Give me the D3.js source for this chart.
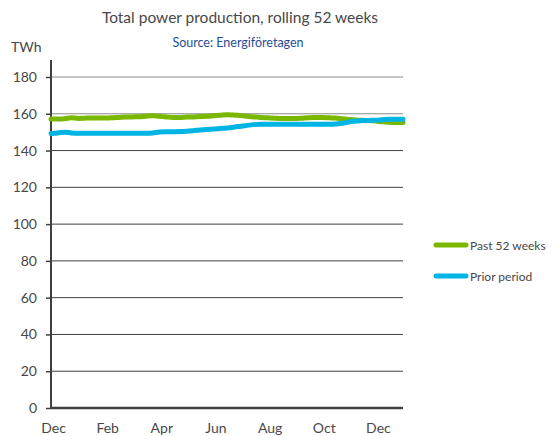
<!DOCTYPE html>
<html>
<head>
<meta charset="utf-8">
<script src="https://cdn.jsdelivr.net/npm/d3@7"></script>
<style>
  body { margin: 0; background: #fff; }
  svg text { font-family: Lato, "Open Sans", sans-serif; }
</style>
</head>
<body>
<svg id="chart" width="555" height="436"></svg>
<script>
// weekly rolling 52-week totals, TWh (week 0 = Dec)
const weeks = d3.range(0, 53);
const past52 = [
  157.2, 157.2, 157.3, 157.8, 157.5, 157.6, 157.7, 157.7, 157.7, 157.8,
  158.0, 158.2, 158.3, 158.4, 158.7, 158.9, 158.6, 158.3, 158.0, 158.0,
  158.2, 158.3, 158.5, 158.6, 158.9, 159.2, 159.5, 159.4, 159.0, 158.6,
  158.3, 158.0, 157.8, 157.6, 157.4, 157.4, 157.4, 157.6, 157.9, 158.0,
  158.0, 157.9, 157.7, 157.3, 156.9, 156.6, 156.5, 156.3, 156.0, 155.6,
  155.4, 155.3, 155.3
];
const prior = [
  149.3, 149.6, 150.0, 149.6, 149.4, 149.4, 149.4, 149.4, 149.4, 149.4,
  149.4, 149.4, 149.4, 149.4, 149.4, 149.6, 150.1, 150.2, 150.2, 150.3,
  150.5, 150.8, 151.2, 151.5, 151.7, 152.0, 152.3, 152.7, 153.2, 153.7,
  154.1, 154.3, 154.3, 154.3, 154.3, 154.3, 154.3, 154.3, 154.3, 154.3,
  154.3, 154.3, 154.4, 154.8, 155.5, 156.1, 156.3, 156.4, 156.5, 156.8,
  157.0, 157.0, 157.0
];
const monthTicks = [0, 8, 16, 24, 32, 40, 48];
const monthLabels = ["Dec", "Feb", "Apr", "Jun", "Aug", "Oct", "Dec"];
const yTicks = [0, 20, 40, 60, 80, 100, 120, 140, 160, 180];
const seriesNames = ["Past 52 weeks", "Prior period"];
const seriesColors = ["#7ab800", "#00b4e4"];

const svg = d3.select("#chart");
const plotLeft = 51, plotRight = 403, plotTop = 77, plotBottom = 408;

const x = d3.scaleLinear().domain([0, 52]).range([plotLeft, plotRight]);
const y = d3.scaleLinear().domain([0, 180]).range([plotBottom, plotTop]);

// title
svg.append("text")
  .attr("x", 240).attr("y", 23)
  .attr("text-anchor", "middle")
  .style("font-size", "15.5px").style("fill", "#484848")
  .text("Total power production, rolling 52 weeks");
svg.append("text")
  .attr("x", 238).attr("y", 47)
  .attr("text-anchor", "middle")
  .style("font-size", "12.5px").style("fill", "#1f4e96")
  .text("Source: Energiföretagen");
svg.append("text")
  .attr("x", 11).attr("y", 52)
  .style("font-size", "14px").style("fill", "#484848")
  .text("TWh");

// gridlines
svg.append("g")
  .selectAll("line")
  .data(yTicks.filter(d => d > 0))
  .join("line")
  .attr("x1", plotLeft).attr("x2", plotRight)
  .attr("y1", d => y(d)).attr("y2", d => y(d))
  .attr("stroke", d => d >= 160 ? "#8c8c8c" : "#404040")
  .attr("stroke-width", 1);

// y axis
const yAxis = svg.append("g")
  .attr("transform", `translate(${plotLeft},0)`)
  .call(d3.axisLeft(y).tickValues(yTicks).tickSize(5).tickPadding(9).tickSizeOuter(0));
yAxis.select(".domain").attr("stroke", "#404040").attr("stroke-width", 2)
  .attr("d", `M0,${plotTop - 17}V${plotBottom + 1}`);
yAxis.selectAll(".tick line").attr("stroke", "#404040").attr("stroke-width", 1.5);
yAxis.selectAll(".tick text").style("font-size", "14px").style("fill", "#484848")
  .style("font-family", "Lato, 'Open Sans', sans-serif");

// x axis
const xAxis = svg.append("g")
  .attr("transform", `translate(0,${plotBottom})`)
  .call(d3.axisBottom(x).tickValues(monthTicks)
    .tickFormat((d, i) => monthLabels[i]).tickSize(0).tickPadding(15));
xAxis.select(".domain").attr("stroke", "#404040").attr("stroke-width", 2.5)
  .attr("d", `M${plotLeft},0H${plotRight}`);
xAxis.selectAll(".tick text").style("font-size", "14px").style("fill", "#484848")
  .style("font-family", "Lato, 'Open Sans', sans-serif")
  .attr("dx", 2);

// lines
const line = d3.line().x((d, i) => x(weeks[i])).y(d => y(d)).curve(d3.curveMonotoneX);
[past52, prior].forEach((s, i) => {
  svg.append("path")
    .datum(s)
    .attr("d", line)
    .attr("fill", "none")
    .attr("stroke", seriesColors[i])
    .attr("stroke-width", 5)
    .attr("stroke-linecap", "round")
    .attr("stroke-linejoin", "round");
});

// legend
const legend = svg.append("g");
seriesNames.forEach((name, i) => {
  const ly = 245 + i * 31;
  legend.append("line")
    .attr("x1", 436).attr("x2", 466)
    .attr("y1", ly).attr("y2", ly)
    .attr("stroke", seriesColors[i]).attr("stroke-width", 5)
    .attr("stroke-linecap", "round");
  legend.append("text")
    .attr("x", 470).attr("y", ly + 4.5)
    .style("font-size", "12px").style("fill", "#484848")
    .text(name);
});
</script>
</body>
</html>
